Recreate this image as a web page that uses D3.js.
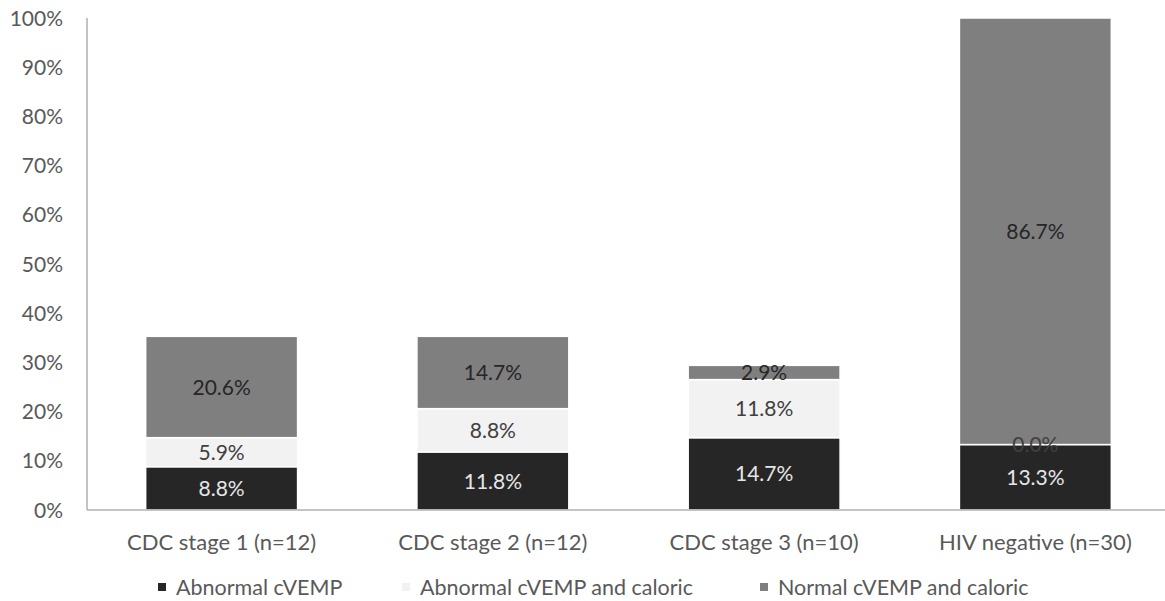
<!DOCTYPE html>
<html><head><meta charset="utf-8">
<script src="https://cdn.jsdelivr.net/npm/d3@7"></script>
<style>body{margin:0;background:#fff;} text{font-family:Lato, "Open Sans", sans-serif;}</style>
</head><body>
<svg id="c" width="1165" height="601"></svg>
<script>
const categories = ["CDC stage 1 (n=12)", "CDC stage 2 (n=12)", "CDC stage 3 (n=10)", "HIV negative (n=30)"];
const seriesNames = ["Abnormal cVEMP", "Abnormal cVEMP and caloric", "Normal cVEMP and caloric"];
const abnormalCVEMP = [8.8, 11.8, 14.7, 13.3];
const abnormalBoth = [5.9, 8.8, 11.8, 0.0];
const normalBoth = [20.6, 14.7, 2.9, 86.7];
const yTicks = [0,10,20,30,40,50,60,70,80,90,100];
const colors = ["#262626", "#f2f2f2", "#7f7f7f"];
const labelColors = ["#e6e6e6", "#404040", "#262626"];

const svg = d3.select("#c");
const x = d3.scaleBand().domain(categories).range([86, 1171]).paddingInner(0.44).paddingOuter(0.22);
const y = d3.scaleLinear().domain([0, 100]).range([510, 18]);

const seriesVals = [abnormalCVEMP, abnormalBoth, normalBoth];
const rows = categories.map((c, i) => ({cat: c, s0: seriesVals[0][i], s1: seriesVals[1][i], s2: seriesVals[2][i]}));
const stack = d3.stack().keys(["s0","s1","s2"])(rows);

svg.append("line").attr("x1", 87).attr("x2", 87).attr("y1", y(100)).attr("y2", y(0)).attr("stroke", "#b0b0b0").attr("stroke-width", 1.5);

stack.forEach((layer, si) => {
  svg.append("g").selectAll("rect").data(layer).join("rect")
    .attr("x", d => x(d.data.cat))
    .attr("width", x.bandwidth())
    .attr("y", d => y(d[1]))
    .attr("height", d => Math.max(0, y(d[0]) - y(d[1])))
    .attr("fill", colors[si])
    .attr("stroke", "#ffffff").attr("stroke-width", 1.5);
});

svg.append("line").attr("x1", 87).attr("x2", 1165).attr("y1", y(0)).attr("y2", y(0)).attr("stroke", "#b0b0b0").attr("stroke-width", 1.5);

stack.forEach((layer, si) => {
  svg.append("g").selectAll("text").data(layer).join("text")
    .attr("x", d => x(d.data.cat) + x.bandwidth()/2)
    .attr("y", d => (y(d[0]) + y(d[1]))/2)
    .attr("dy", "0.36em")
    .attr("text-anchor", "middle")
    .attr("font-size", 21)
    .attr("fill", labelColors[si])
    .text(d => (d[1]-d[0]).toFixed(1) + "%");
});

svg.append("g").selectAll("text").data(yTicks).join("text")
  .attr("x", 63).attr("y", d => y(d)).attr("dy", "0.36em")
  .attr("text-anchor", "end").attr("font-size", 21).attr("fill", "#595959")
  .text(d => d + "%");

svg.append("g").selectAll("text").data(categories).join("text")
  .attr("x", d => x(d) + x.bandwidth()/2).attr("y", 542).attr("dy", "0.36em")
  .attr("text-anchor", "middle").attr("font-size", 22).attr("fill", "#595959")
  .text(d => d);

const legX = [158, 402, 760];
const lg = svg.append("g").selectAll("g").data(seriesNames).join("g")
  .attr("transform", (d, i) => `translate(${legX[i]},587)`);
lg.append("rect").attr("x", 0).attr("y", -4).attr("width", 8).attr("height", 8).attr("fill", (d, i) => colors[i]);
lg.append("text").attr("x", 18).attr("dy", "0.36em").attr("font-size", 21.5).attr("fill", "#595959").text(d => d);
</script>
</body></html>
